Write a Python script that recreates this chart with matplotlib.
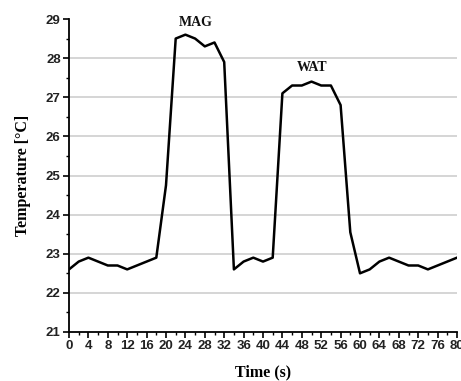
import matplotlib
matplotlib.use("Agg")
import matplotlib.pyplot as plt
from matplotlib.ticker import MultipleLocator

time_s = [0, 2, 4, 6, 8, 10, 12, 14, 16, 18, 20, 22, 24, 26, 28, 30, 32, 34, 36, 38, 40,
          42, 44, 46, 48, 50, 52, 54, 56, 58, 60, 62, 64, 66, 68, 70, 72, 74, 76, 78, 80]
temperature = [22.6, 22.8, 22.9, 22.8, 22.7, 22.7, 22.6, 22.7, 22.8, 22.9, 24.75,
               28.5, 28.6, 28.5, 28.3, 28.4, 27.9, 22.6, 22.8, 22.9, 22.8,
               22.9, 27.1, 27.3, 27.3, 27.4, 27.3, 27.3, 26.8, 23.55, 22.5,
               22.6, 22.8, 22.9, 22.8, 22.7, 22.7, 22.6, 22.7, 22.8, 22.9]
annotations = [("MAG", 26.2, 28.9), ("WAT", 50.1, 27.75)]
x_ticks = list(range(0, 81, 4))
y_ticks = list(range(21, 30))

fig = plt.figure(figsize=(4.61, 3.81), dpi=100)
ax = fig.add_axes([69/461, 49/381, 388/461, 313/381])

for y in range(22, 29):
    ax.axhline(y, color="#cacaca", lw=1.1, zorder=0)

ax.plot(time_s, temperature, color="black", lw=1.8, zorder=3)

ax.set_xlim(0, 80)
ax.set_ylim(21, 29)
ax.set_xticks(x_ticks)
ax.set_yticks(y_ticks)
ax.xaxis.set_minor_locator(MultipleLocator(2))
ax.yaxis.set_minor_locator(MultipleLocator(0.5))

for s in ["top", "right"]:
    ax.spines[s].set_visible(False)
for s in ["left", "bottom"]:
    ax.spines[s].set_linewidth(1.3)

ax.tick_params(which="major", direction="out", length=4, width=1.2, pad=2)
ax.tick_params(which="minor", direction="out", length=2.5, width=1.0)
for lab in ax.get_xticklabels() + ax.get_yticklabels():
    lab.set_fontfamily("Liberation Sans")
    lab.set_fontweight("bold")
    lab.set_fontsize(9.5)
    lab.set_color("#222222")

ax.set_xlabel("Time (s)", fontfamily="Liberation Serif", fontweight="bold", fontsize=11.5, labelpad=9)
ax.set_ylabel("Temperature [°C]", fontfamily="Liberation Serif", fontweight="bold", fontsize=11.5, labelpad=11)

for txt, x, y in annotations:
    ax.text(x, y, txt, fontfamily="Liberation Serif", fontweight="bold", fontsize=10,
            ha="center", va="center", color="#111111")

fig.savefig("out.png", dpi=100)
